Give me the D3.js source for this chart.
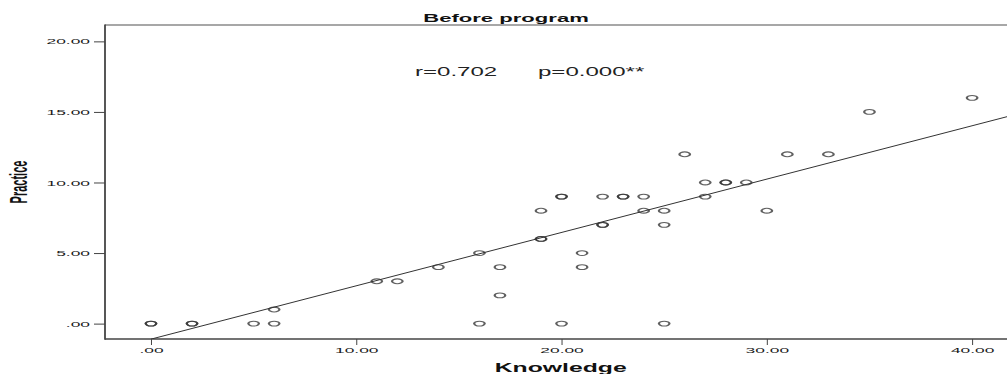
<!DOCTYPE html>
<html>
<head>
<meta charset="utf-8">
<script src="https://cdn.jsdelivr.net/npm/d3@7"></script>
<style>
  html, body { margin: 0; padding: 0; background: #fff; }
  svg { display: block; }
  text { font-family: "Liberation Sans", Arial, sans-serif; }
</style>
</head>
<body>
<div id="chart"></div>
<script>
// Scatter data (duplicates drawn twice, they show darker)
const knowledge = [0, 0, 2, 2, 5, 6, 6, 11, 12, 14, 16, 16, 17, 17, 19, 19, 19, 20, 20, 20,
  21, 21, 22, 22, 22, 23, 23, 24, 24, 25, 25, 25, 26, 27, 27, 28, 28, 29, 30, 31, 33, 35, 40];
const practice = [0, 0, 0, 0, 0, 0, 1, 3, 3, 4, 5, 0, 4, 2, 8, 6, 6, 9, 9, 0,
  5, 4, 9, 7, 7, 9, 9, 9, 8, 8, 7, 0, 12, 10, 9, 10, 10, 10, 8, 12, 12, 15, 16];

const xTicks = [0, 10, 20, 30, 40];
const yTicks = [0, 5, 10, 15, 20];

// fitted line as drawn in the reference
const fitIntercept = -1.1;
const fitSlope = 0.378;

const titleText = 'Before program';
const xLabel = 'Knowledge';
const yLabel = 'Practice';
const statR = 'r=0.702';
const statP = 'p=0.000**';

const width = 1007, height = 374;
const plot = { left: 105, top: 25, bottom: 339, right: 1007 };
// picture is stretched sideways, text and markers follow that
const stretch = 2.2;

const fmt = v => v === 0 ? '.00' : d3.format('.2f')(v);

const svg = d3.select('#chart').append('svg')
  .attr('width', width)
  .attr('height', height);

const x = d3.scaleLinear().domain([-2.24, 41.7]).range([plot.left, plot.right]);
const y = d3.scaleLinear().domain([-1.09, 21.16]).range([plot.bottom, plot.top]);

svg.append('defs').append('clipPath').attr('id', 'plotclip')
  .append('rect')
  .attr('x', plot.left).attr('y', plot.top)
  .attr('width', plot.right - plot.left).attr('height', plot.bottom - plot.top);

// frame
svg.append('line')
  .attr('x1', plot.left).attr('x2', plot.right)
  .attr('y1', plot.top).attr('y2', plot.top)
  .attr('stroke', '#8a8a8a').attr('stroke-width', 1.3);

// y axis
const yAxis = svg.append('g')
  .attr('transform', `translate(${plot.left},0)`)
  .call(d3.axisLeft(y).tickValues(yTicks).tickSize(11).tickPadding(4).tickFormat(fmt));
yAxis.select('.domain').remove();
yAxis.selectAll('.tick line').attr('stroke', '#444');
yAxis.selectAll('.tick text')
  .attr('x', -15 / stretch)
  .attr('transform', `scale(${stretch},1)`)
  .attr('font-size', 7.9)
  .attr('font-family', '"Liberation Sans", Arial, sans-serif')
  .attr('fill', '#1a1a1a');

// x axis
const xAxis = svg.append('g')
  .attr('transform', `translate(0,${plot.bottom})`)
  .call(d3.axisBottom(x).tickValues(xTicks).tickSize(6).tickPadding(2).tickFormat(fmt));
xAxis.select('.domain').remove();
xAxis.selectAll('.tick line').attr('stroke', '#444');
xAxis.selectAll('.tick text')
  .attr('transform', `scale(${stretch},1)`)
  .attr('font-size', 7.9)
  .attr('font-family', '"Liberation Sans", Arial, sans-serif')
  .attr('fill', '#1a1a1a');

svg.append('line')
  .attr('x1', plot.left).attr('x2', plot.left)
  .attr('y1', plot.top - 0.6).attr('y2', plot.bottom + 0.8)
  .attr('stroke', '#444').attr('stroke-width', 1.8);
svg.append('line')
  .attr('x1', plot.left).attr('x2', plot.right)
  .attr('y1', plot.bottom).attr('y2', plot.bottom)
  .attr('stroke', '#444').attr('stroke-width', 1.6);

// fit line
const xd = x.domain();
svg.append('line')
  .attr('clip-path', 'url(#plotclip)')
  .attr('x1', x(0)).attr('y1', y(fitIntercept))
  .attr('x2', x(xd[1])).attr('y2', y(fitIntercept + fitSlope * xd[1]))
  .attr('stroke', '#333').attr('stroke-width', 1);

// points
const points = knowledge.map((k, i) => ({ k, p: practice[i] }));
svg.append('g')
  .selectAll('circle')
  .data(points)
  .enter()
  .append('circle')
  .attr('transform', d => `translate(${x(d.k)},${y(d.p)}) scale(${stretch},1)`)
  .attr('r', 2.4)
  .attr('fill', 'none')
  .attr('stroke', '#333')
  .attr('stroke-opacity', 0.78)
  .attr('stroke-width', 1.05);

// texts
svg.append('text')
  .attr('transform', `translate(506,21.7) scale(1.92,1)`)
  .attr('text-anchor', 'middle')
  .attr('font-size', 11.5)
  .attr('font-weight', 'bold')
  .attr('fill', '#111')
  .text(titleText);

svg.append('text')
  .attr('transform', `translate(415,76) scale(1.85,1)`)
  .attr('font-size', 13)
  .attr('fill', '#222')
  .text(statR);
svg.append('text')
  .attr('transform', `translate(538,76) scale(1.85,1)`)
  .attr('font-size', 13)
  .attr('fill', '#222')
  .text(statP);

svg.append('text')
  .attr('transform', `translate(560.7,371.7) scale(1.98,1)`)
  .attr('text-anchor', 'middle')
  .attr('font-size', 12.5)
  .attr('font-weight', 'bold')
  .attr('fill', '#111')
  .text(xLabel);

svg.append('text')
  .attr('transform', `translate(26.5,182) scale(${stretch},1) rotate(-90)`)
  .attr('text-anchor', 'middle')
  .attr('font-size', 11)
  .attr('font-weight', 'bold')
  .attr('fill', '#111')
  .text(yLabel);
</script>
</body>
</html>
